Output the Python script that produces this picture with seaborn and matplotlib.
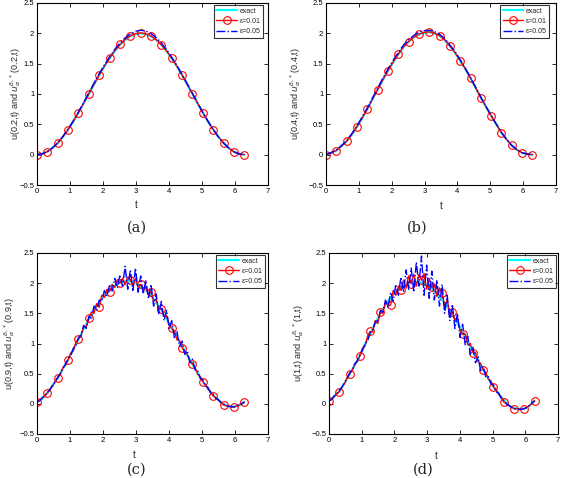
import matplotlib
matplotlib.use("Agg")
import matplotlib.pyplot as plt
import seaborn as sns

# ---------------- data ----------------
# top-row time grid (step pi/20)
t_top = [0.000, 0.157, 0.314, 0.471, 0.628, 0.785, 0.942, 1.100, 1.257, 1.414,
         1.571, 1.728, 1.885, 2.042, 2.199, 2.356, 2.513, 2.670, 2.827, 2.985,
         3.142, 3.299, 3.456, 3.613, 3.770, 3.927, 4.084, 4.241, 4.398, 4.555,
         4.712, 4.869, 5.027, 5.184, 5.341, 5.498, 5.655, 5.812, 5.969, 6.126, 6.283]

# bottom-row fine time grid (step pi/40)
t_fine = [0.000, 0.079, 0.157, 0.236, 0.314, 0.393, 0.471, 0.550, 0.628, 0.707,
          0.785, 0.864, 0.942, 1.021, 1.100, 1.178, 1.257, 1.335, 1.414, 1.492,
          1.571, 1.649, 1.728, 1.806, 1.885, 1.963, 2.042, 2.121, 2.199, 2.278,
          2.356, 2.435, 2.513, 2.592, 2.670, 2.749, 2.827, 2.906, 2.985, 3.063,
          3.142, 3.220, 3.299, 3.377, 3.456, 3.534, 3.613, 3.691, 3.770, 3.848,
          3.927, 4.006, 4.084, 4.163, 4.241, 4.320, 4.398, 4.477, 4.555, 4.634,
          4.712, 4.791, 4.869, 4.948, 5.027, 5.105, 5.184, 5.262, 5.341, 5.419,
          5.498, 5.576, 5.655, 5.733, 5.812, 5.890, 5.969, 6.048, 6.126, 6.205, 6.283]

# panel (a): x = 0.2
exact_a = [0.000, 0.012, 0.049, 0.109, 0.191, 0.293, 0.412, 0.546, 0.691, 0.844,
           1.000, 1.156, 1.309, 1.454, 1.588, 1.707, 1.809, 1.891, 1.951, 1.988,
           2.000, 1.988, 1.951, 1.891, 1.809, 1.707, 1.588, 1.454, 1.309, 1.156,
           1.000, 0.844, 0.691, 0.546, 0.412, 0.293, 0.191, 0.109, 0.049, 0.012, 0.000]
eps01_a = [0.000, 0.013, 0.050, 0.110, 0.192, 0.295, 0.414, 0.550, 0.694, 0.850,
           1.005, 1.162, 1.316, 1.460, 1.594, 1.714, 1.816, 1.898, 1.958, 1.995,
           2.008, 1.994, 1.957, 1.895, 1.811, 1.708, 1.590, 1.456, 1.312, 1.158,
           1.002, 0.845, 0.692, 0.546, 0.412, 0.293, 0.191, 0.108, 0.045, 0.010, 0.000]
eps05_a = [0.000, 0.015, 0.052, 0.114, 0.197, 0.302, 0.421, 0.558, 0.704, 0.862,
           1.020, 1.180, 1.335, 1.480, 1.612, 1.735, 1.840, 1.925, 1.990, 2.035,
           2.050, 2.040, 1.995, 1.930, 1.840, 1.730, 1.605, 1.468, 1.320, 1.165,
           1.008, 0.850, 0.695, 0.548, 0.414, 0.294, 0.192, 0.109, 0.048, 0.012, 0.000]

# panel (b): x = 0.4
exact_b = [0.000, 0.030, 0.070, 0.140, 0.220, 0.330, 0.460, 0.600, 0.750, 0.910,
           1.070, 1.230, 1.380, 1.520, 1.650, 1.770, 1.860, 1.930, 1.980, 2.010,
           2.020, 2.000, 1.960, 1.890, 1.790, 1.680, 1.550, 1.410, 1.260, 1.100,
           0.940, 0.790, 0.640, 0.500, 0.360, 0.250, 0.150, 0.080, 0.030, 0.010, 0.000]
eps01_b = [0.000, 0.031, 0.068, 0.142, 0.222, 0.334, 0.462, 0.604, 0.752, 0.914,
           1.072, 1.234, 1.384, 1.525, 1.655, 1.776, 1.865, 1.937, 1.986, 2.016,
           2.024, 2.004, 1.962, 1.893, 1.792, 1.682, 1.552, 1.412, 1.262, 1.102,
           0.942, 0.790, 0.641, 0.500, 0.362, 0.251, 0.152, 0.080, 0.031, 0.010, 0.000]
eps05_b = [0.000, 0.034, 0.075, 0.150, 0.230, 0.345, 0.475, 0.620, 0.770, 0.935,
           1.095, 1.260, 1.410, 1.555, 1.685, 1.805, 1.895, 1.965, 2.020, 2.045,
           2.050, 2.030, 1.985, 1.915, 1.810, 1.700, 1.565, 1.425, 1.270, 1.110,
           0.950, 0.795, 0.645, 0.502, 0.364, 0.252, 0.152, 0.081, 0.031, 0.010, 0.000]

# panel (c): x = 0.9
exact_c = [0.03, 0.09, 0.18, 0.30, 0.43, 0.58, 0.73, 0.90, 1.07, 1.24,
           1.40, 1.55, 1.68, 1.80, 1.89, 1.96, 2.01, 2.03, 2.03, 2.00,
           1.95, 1.88, 1.79, 1.68, 1.56, 1.41, 1.26, 1.10, 0.95, 0.80,
           0.66, 0.51, 0.37, 0.25, 0.14, 0.06, -0.01, -0.04, -0.05, -0.02, 0.03]
eps01_c = [0.03, 0.07, 0.09, 0.14, 0.18, 0.25, 0.29, 0.38, 0.43, 0.49,
           0.60, 0.64, 0.73, 0.84, 0.88, 1.02, 1.08, 1.12, 1.29, 1.27,
           1.42, 1.52, 1.50, 1.66, 1.60, 1.80, 1.76, 1.90, 1.86, 1.98,
           1.93, 2.06, 2.00, 2.08, 1.98, 2.10, 2.06, 1.96, 2.08, 1.93,
           1.98, 1.87, 1.94, 1.80, 1.86, 1.70, 1.74, 1.55, 1.58, 1.45,
           1.46, 1.30, 1.25, 1.21, 1.06, 1.05, 0.93, 0.86, 0.82, 0.71,
           0.66, 0.60, 0.49, 0.45, 0.36, 0.31, 0.24, 0.20, 0.13, 0.10,
           0.06, 0.02, -0.02, -0.03, -0.04, -0.05, -0.05, -0.04, -0.02, 0.00, 0.03]
eps05_c = [0.03, 0.05, 0.10, 0.13, 0.19, 0.23, 0.31, 0.36, 0.44, 0.50,
           0.59, 0.66, 0.74, 0.80, 0.92, 0.96, 1.10, 1.13, 1.30, 1.25,
           1.45, 1.42, 1.62, 1.55, 1.72, 1.70, 1.88, 1.78, 1.98, 1.87,
           2.08, 1.92, 2.14, 1.95, 2.28, 1.90, 2.22, 1.88, 2.25, 1.85,
           2.12, 1.82, 2.05, 1.74, 1.98, 1.62, 1.82, 1.48, 1.70, 1.38,
           1.55, 1.25, 1.38, 1.10, 1.20, 0.95, 1.04, 0.82, 0.88, 0.68,
           0.74, 0.56, 0.55, 0.42, 0.40, 0.30, 0.27, 0.18, 0.16, 0.09,
           0.07, 0.02, 0.00, -0.03, -0.04, -0.05, -0.05, -0.04, -0.02, 0.00, 0.03]

# panel (d): x = 1
exact_d = [0.05, 0.12, 0.21, 0.34, 0.49, 0.64, 0.80, 0.98, 1.16, 1.33,
           1.50, 1.64, 1.76, 1.86, 1.93, 1.98, 2.01, 2.02, 2.01, 1.97,
           1.91, 1.83, 1.73, 1.61, 1.48, 1.34, 1.19, 1.03, 0.87, 0.72,
           0.57, 0.42, 0.29, 0.17, 0.06, -0.02, -0.07, -0.09, -0.08, -0.03, 0.05]
eps01_d = [0.05, 0.08, 0.12, 0.17, 0.20, 0.28, 0.33, 0.43, 0.50, 0.55,
           0.65, 0.70, 0.79, 0.92, 0.96, 1.12, 1.20, 1.19, 1.38, 1.33,
           1.52, 1.50, 1.70, 1.62, 1.64, 1.88, 1.80, 1.95, 1.88, 2.05,
           1.92, 2.12, 1.99, 2.15, 1.95, 2.14, 2.05, 2.16, 1.90, 2.08,
           1.93, 1.98, 1.78, 1.92, 1.83, 1.62, 1.72, 1.50, 1.52, 1.38,
           1.44, 1.22, 1.15, 1.16, 0.98, 1.00, 0.85, 0.85, 0.70, 0.67,
           0.56, 0.52, 0.41, 0.38, 0.28, 0.24, 0.16, 0.12, 0.03, 0.01,
           -0.03, -0.05, -0.08, -0.08, -0.09, -0.09, -0.08, -0.06, -0.03, 0.01, 0.05]
eps05_d = [0.05, 0.07, 0.13, 0.16, 0.22, 0.27, 0.35, 0.41, 0.51, 0.56,
           0.66, 0.71, 0.82, 0.88, 1.00, 1.04, 1.18, 1.22, 1.36, 1.38,
           1.55, 1.52, 1.72, 1.60, 1.85, 1.70, 1.98, 1.80, 2.10, 1.85,
           2.22, 1.90, 2.25, 1.85, 2.35, 1.95, 2.45, 1.80, 2.30, 1.75,
           2.20, 1.72, 2.05, 1.62, 1.98, 1.50, 1.80, 1.38, 1.65, 1.25,
           1.50, 1.10, 1.32, 0.98, 1.12, 0.82, 0.95, 0.68, 0.78, 0.55,
           0.62, 0.45, 0.46, 0.33, 0.31, 0.20, 0.18, 0.09, 0.06, 0.00,
           -0.03, -0.06, -0.08, -0.09, -0.09, -0.09, -0.08, -0.06, -0.03, 0.01, 0.05]

panel_labels = ["(a)", "(b)", "(c)", "(d)"]
ylabels = [r"u(0.2,t) and $u_{\alpha}^{\delta,*}$(0.2,t)",
           r"u(0.4,t) and $u_{\alpha}^{\delta,*}$(0.4,t)",
           r"u(0.9,t) and $u_{\alpha}^{\delta,*}$(0.9,t)",
           r"u(1,t) and $u_{\alpha}^{\delta,*}$(1,t)"]
legend_labels = ["exact", "ε=0.01", "ε=0.05"]
xticks = [0, 1, 2, 3, 4, 5, 6, 7]
yticks = [-0.5, 0, 0.5, 1, 1.5, 2, 2.5]
ytick_labels = ["\u22120.5", "0", "0.5", "1", "1.5", "2", "2.5"]

# ---------------- plotting ----------------
sns.set_theme(style="ticks")
plt.rcParams["font.family"] = ["Liberation Sans", "DejaVu Sans"]
plt.rcParams["mathtext.fontset"] = "dejavusans"

W, H = 563, 478
fig = plt.figure(figsize=(W / 100, H / 100), dpi=100)
fig.patch.set_facecolor("white")

# axes boxes in pixels: left, right, top, bottom
boxes = [(37, 268, 3, 185), (326, 556, 3, 185), (37, 268, 253, 434), (329, 558, 253, 434)]
ylab_x = [-0.06, -0.10, -0.087, -0.10]
xlab = [(0.43, -0.082), (0.50, -0.088), (0.42, -0.088), (0.47, -0.092)]
leg_anchor = [(0.978, 0.989), (0.970, 0.989), (0.987, 0.989), (0.991, 0.989)]
captions = [(137, 228), (417, 228), (137, 470), (423, 470)]

panels = [
    (t_top, exact_a, t_top, eps01_a, eps05_a, 2),
    (t_top, exact_b, t_top, eps01_b, eps05_b, 2),
    (t_top, exact_c, t_fine, eps01_c, eps05_c, 4),
    (t_top, exact_d, t_fine, eps01_d, eps05_d, 4),
]

for i, (te, ye, tn, y1, y5, mev) in enumerate(panels):
    l, r, tp, b = boxes[i]
    ax = fig.add_axes([l / W, (H - b) / H, (r - l) / W, (b - tp) / H])
    ax.set_facecolor("white")
    sns.lineplot(x=te, y=ye, ax=ax, color="cyan", lw=1.6, sort=False,
                 estimator=None, label=legend_labels[0])
    sns.lineplot(x=tn, y=y1, ax=ax, color="red", lw=1.0, sort=False,
                 estimator=None, marker="o", markevery=mev, markersize=5.5,
                 markerfacecolor="none", markeredgecolor="red",
                 markeredgewidth=0.8, label=legend_labels[1])
    sns.lineplot(x=tn, y=y5, ax=ax, color="blue", lw=1.0, sort=False,
                 estimator=None, linestyle="-.", label=legend_labels[2])
    ax.set_xlim(0, 7)
    ax.set_ylim(-0.5, 2.5)
    ax.set_xticks(xticks)
    ax.set_xticklabels([str(v) for v in xticks])
    ax.set_yticks(yticks)
    ax.set_yticklabels(ytick_labels)
    ax.tick_params(direction="in", top=True, right=True, length=3, width=0.6,
                   labelsize=5.5, pad=2, colors="black")
    for s in ax.spines.values():
        s.set_visible(True)
        s.set_color("black")
        s.set_linewidth(0.8)
    ax.set_xlabel("t", fontsize=7)
    ax.xaxis.set_label_coords(*xlab[i])
    ax.set_ylabel(ylabels[i], fontsize=6.5)
    ax.yaxis.set_label_coords(ylab_x[i], 0.5)
    leg = ax.legend(loc="upper right", bbox_to_anchor=leg_anchor[i],
                    borderaxespad=0, fontsize=5, frameon=True, fancybox=False,
                    edgecolor="black", handlelength=3.0, handletextpad=0.3,
                    labelspacing=0.45, borderpad=0.4)
    leg.get_frame().set_linewidth(0.8)
    fig.text(captions[i][0] / W, 1 - captions[i][1] / H, panel_labels[i],
             ha="center", va="center", fontsize=10.5,
             family=["DejaVu Serif"])

fig.savefig("out.png", dpi=100, facecolor="white")
